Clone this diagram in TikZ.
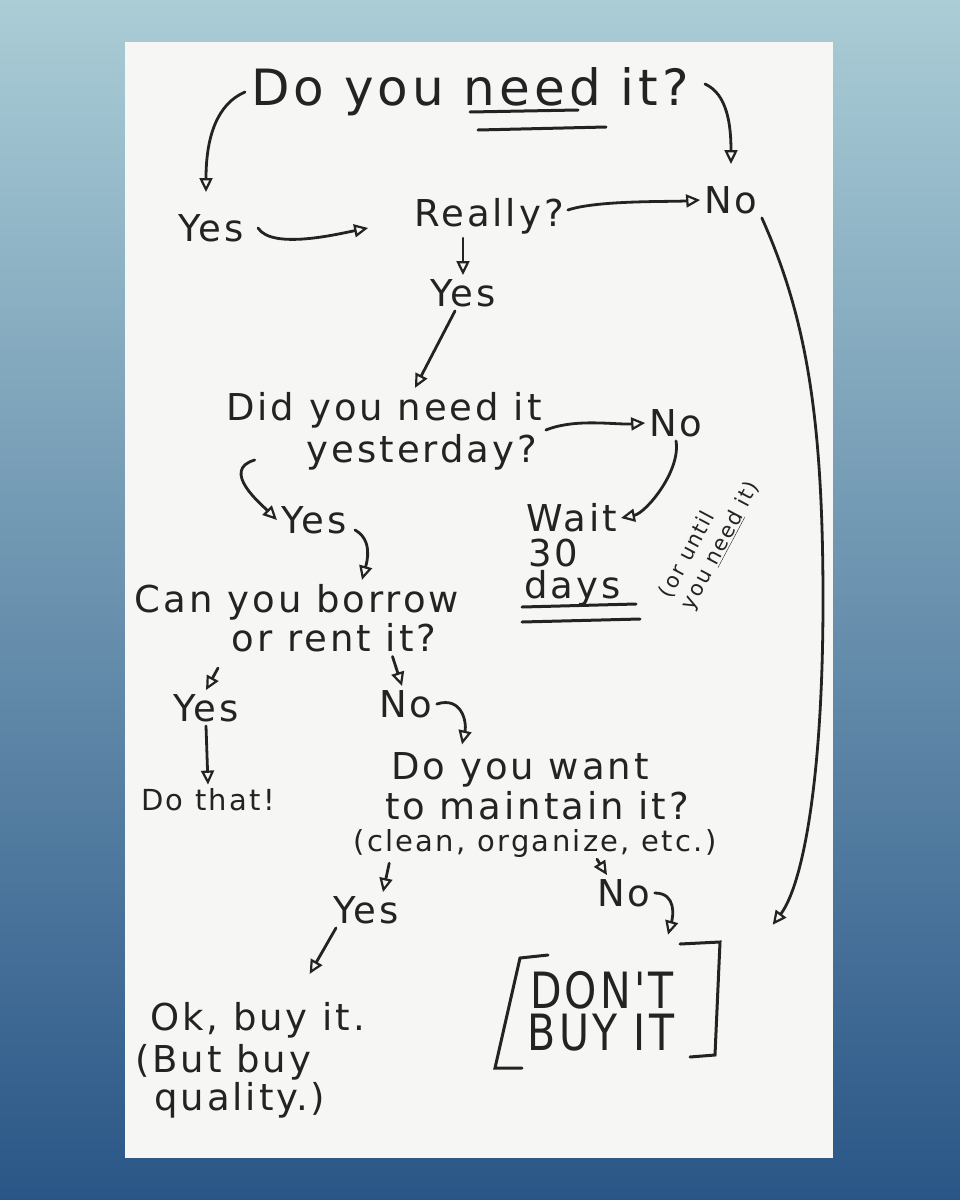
\documentclass[tikz,border=0pt]{standalone}
\usepackage{fontspec}
\setmainfont{DejaVu Sans}
\newfontfamily\handfont[LetterSpace=8]{DejaVu Sans}
\usetikzlibrary{arrows.meta,positioning,calc}

\definecolor{ink}{HTML}{232323}
\definecolor{paper}{HTML}{F6F6F5}
\definecolor{bgtop}{HTML}{AACDD6}
\definecolor{bgmid}{HTML}{5AA0B4}
\definecolor{bgbot}{HTML}{2A5687}

\tikzset{
  hand/.style={font=\handfont\fontsize{37}{44}\selectfont, text=ink, inner sep=4pt},
  big/.style={font=\handfont\fontsize{50}{56}\selectfont, text=ink, inner sep=4pt},
  mid/.style={font=\handfont\fontsize{29}{34}\selectfont, text=ink, inner sep=4pt},
  small/.style={font=\handfont\fontsize{21}{25}\selectfont, text=ink, inner sep=1pt},
  arr/.style={draw=ink, line width=2.8pt, line cap=round,
    -{Triangle[open,length=14pt,width=13pt,line width=2.2pt]}},
  uline/.style={draw=ink, line width=3pt, line cap=round},
}

\begin{document}
\begin{tikzpicture}[x=1pt,y=-1pt]
  % Backdrop and paper
  \shade[top color=bgtop, middle color=bgmid, bottom color=bgbot] (0,0) rectangle (960,1200);
  \fill[paper] (125,42) rectangle (833,1158);
  \useasboundingbox (0,0) rectangle (960,1200);

  % Questions and answers
  \node[big] (q1) at (470,92) {Do you need it?};
  \node[hand] (yes1) at (211,228) {Yes};
  \node[hand] (really) at (489,216) {Really?};
  \node[hand] (no1) at (731,200) {No};
  \node[hand] (yes2) at (463,293) {Yes};
  \node[hand] (q2a) at (384,410) {Did you need it};
  \node[hand] (q2b) at (422,452) {yesterday?};
  \node[hand] (no2) at (676,423) {No};
  \node[hand] (yes3) at (314,520) {Yes};
  \node[hand, anchor=west] (wait) at (522,518) {Wait};
  \node[hand, anchor=west] (thirty) at (524,553) {30};
  \node[hand, anchor=west] (days) at (520,588) {days};
  \node[small, rotate=62, align=left] (until) at (710,540) {(or until\\you \underline{need} it)};
  \node[hand] (q3a) at (297,602) {Can you borrow};
  \node[hand] (q3b) at (334,638) {or rent it?};
  \node[hand] (yes4) at (206,708) {Yes};
  \node[hand] (no3) at (406,704) {No};
  \node[mid] (done) at (208,800) {Do that!};
  \node[hand] (q4a) at (520,770) {Do you want};
  \node[hand] (q4b) at (537,806) {to maintain it?};
  \node[mid] (q4c) at (535,843) {(clean, organize, etc.)};
  \node[hand] (yes5) at (366,910) {Yes};
  \node[hand] (no4) at (624,893) {No};
  \node[hand, anchor=west] (oka) at (146,1020) {Ok, buy it.};
  \node[hand, anchor=west] (okb) at (131,1062) {(But buy};
  \node[hand, anchor=west] (okc) at (150,1100) {quality.)};
  \node[big] (donta) at (602,990) {\scalebox{0.82}[1]{DON'T}};
  \node[big] (dontb) at (601,1033) {\scalebox{0.82}[1]{BUY IT}};
  \node[minimum width=225pt, minimum height=126pt, inner sep=0pt] (box) at (607,1005) {};

  % Underlines
  \draw[uline] (470,112) -- (578,110);
  \draw[uline] (478,130) -- (606,127);
  \draw[uline] (522,607) -- (636,604);
  \draw[uline] (522,622) -- (640,619);

  % Brackets round the verdict
  \draw[uline] (548,955) -- (520,958) -- (495,1068) -- (522,1068);
  \draw[uline] (680,944) -- (720,942) -- (715,1055) -- (690,1057);

  % Connectors
  \draw[arr] ([xshift=-2pt]q1.west) .. controls +(-28,12) and +(0,-55) .. ($(yes1.north)+(-5,-18)$);
  \draw[arr] ($(q1.east)+(12,-8)$) .. controls +(22,10) and +(0,-40) .. ([yshift=18pt]no1.north);
  \draw[arr] ([xshift=10pt]yes1.east) .. controls +(14,22) and +(-30,6) .. ($(really.west)+(-42,12)$);
  \draw[arr] ([yshift=6pt]really.east) .. controls +(30,-10) and +(-30,2) .. (no1.west);
  \draw[arr] (yes2.north |- really.south) -- (yes2.north);
  \draw[arr] ([xshift=-8pt]yes2.south) -- ([xshift=31pt]q2a.north);
  \coordinate (bend) at (823,600);
  \draw[arr] (no1.south east) .. controls +(45,100) and +(0,-180) .. (bend)
    .. controls +(0,180) and +(30,-40) .. ($(box.north east)+(53,-17)$);
  \draw[arr] ([yshift=-20pt]q2a.east) .. controls +(30,-12) and +(-30,2) .. (no2.west);
  \draw[arr] (no2.south) .. controls +(5,30) and +(25,-5) .. (wait.east);
  \draw[arr] ($(q2b.west)+(-48,8)$) .. controls +(-35,10) and +(-15,-15) .. (yes3.west);
  \draw[arr] ($(yes3.east)+(4,10)$) .. controls +(18,10) and +(5,-18) .. ([xshift=65pt]q3a.north);
  \draw[arr] ($(yes4.north)+(12,-22)$) -- (yes4.north);
  \draw[arr] ($(q3b.south east)+(-48,0)$) -- ([xshift=-4pt]no3.north);
  \draw[arr] (no3.east) .. controls +(25,-8) and +(5,-22) .. ($(q4a.north)+(-58,-4)$);
  \draw[arr] (yes4.south) -- (done.north);
  \draw[arr] ($(q4c.south west)+(40,2)$) -- ([xshift=17pt]yes5.north);
  \draw[arr] ($(q4c.south)+(62,-2)$) -- ([xshift=-17pt]no4.north);
  \draw[arr] (no4.east) .. controls +(22,0) and +(5,-18) .. ($(box.north)+(61,-7)$);
  \draw[arr] ([xshift=-30pt]yes5.south) -- ($(oka.north)+(52,-24)$);
\end{tikzpicture}
\end{document}
